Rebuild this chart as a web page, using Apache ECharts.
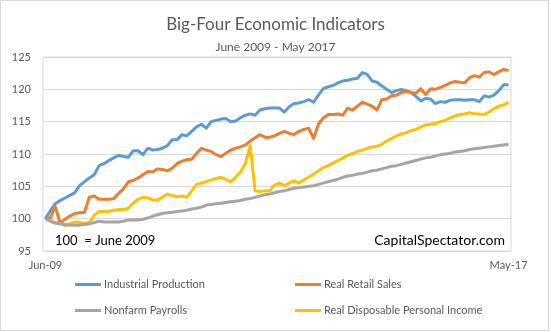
<!DOCTYPE html>
<html><head><meta charset="utf-8">
<script src="https://cdn.jsdelivr.net/npm/echarts@6/dist/echarts.min.js"></script>
<style>html,body{margin:0;padding:0;background:#fff}#c{width:551px;height:332px}</style>
</head><body><div id="c"></div>
<script>
// Months Jun-2009 .. May-2017 (96 monthly categories)
const monthNames = ['Jan','Feb','Mar','Apr','May','Jun','Jul','Aug','Sep','Oct','Nov','Dec'];
const categories = [];
for (let y = 2009; y <= 2017; y++) {
  for (let m = 0; m < 12; m++) {
    if ((y === 2009 && m < 5) || (y === 2017 && m > 4)) continue;
    categories.push(monthNames[m] + '-' + String(y).slice(2));
  }
}
const yTicks = [95, 100, 105, 110, 115, 120, 125];

const industrialProduction = [
100,101.2,102.3,102.8,103.2,103.6,104.0,105.1,105.7,106.3,
106.8,108.2,108.5,109.0,109.4,109.8,109.6,109.5,110.5,110.5,
109.9,110.9,110.6,110.7,110.9,111.3,112.2,112.2,113.0,112.8,
113.5,114.2,114.6,114.0,115.0,115.2,115.4,115.5,115.0,115.1,
115.6,116.0,116.2,116.0,116.8,117.0,117.1,117.1,117.1,116.5,
117.3,117.8,117.9,118.1,118.4,118.0,119.1,120.1,120.4,120.6,
121.0,121.3,121.4,121.6,121.7,122.6,122.3,121.3,121.1,120.5,
120.0,119.5,119.8,120.0,119.8,119.5,118.9,118.2,118.6,118.5,
117.8,118.1,118.0,118.3,118.4,118.4,118.3,118.4,118.4,118.1,
119.0,118.8,119.1,119.8,120.7,120.7];

const realRetailSales = [
100,100.1,101.9,99.3,99.9,100.4,100.8,100.9,101.0,103.3,
103.5,103.0,103.0,103.0,103.1,103.9,104.6,105.7,105.9,106.3,
106.8,107.3,107.2,107.7,107.6,107.4,107.8,108.5,108.9,109.1,
109.2,110.1,110.9,110.6,110.4,109.9,109.6,110.1,110.6,110.9,
111.1,111.4,112.0,112.5,113.0,112.6,112.6,112.8,113.2,113.5,
113.2,113.0,113.5,113.8,114.0,112.4,114.6,115.6,116.1,116.1,
116.2,116.0,117.1,116.8,117.4,118.0,117.7,117.4,116.8,118.4,
118.5,119.0,119.1,119.5,119.7,119.5,119.4,120.1,119.2,120.1,
120.0,120.3,120.6,121.0,121.2,121.1,121.0,121.8,122.1,121.9,
122.6,122.7,122.3,122.7,123.1,122.9];

const nonfarmPayrolls = [
100,99.6,99.3,99.2,99.1,99.0,99.0,99.0,99.1,99.2,
99.4,99.6,99.5,99.5,99.5,99.5,99.6,99.8,99.8,99.8,
99.9,100.1,100.4,100.6,100.8,100.9,101.0,101.1,101.2,101.3,
101.5,101.6,101.8,102.1,102.2,102.3,102.4,102.5,102.6,102.7,
102.8,103.0,103.1,103.3,103.5,103.7,103.8,104.0,104.2,104.3,
104.5,104.7,104.8,104.9,105.0,105.1,105.3,105.5,105.7,105.9,
106.1,106.4,106.6,106.7,106.9,107.0,107.2,107.4,107.5,107.7,
107.9,108.1,108.2,108.4,108.6,108.8,109.0,109.2,109.4,109.5,
109.7,109.9,110.0,110.1,110.3,110.4,110.5,110.7,110.8,110.9,
111.0,111.1,111.2,111.3,111.4,111.5];

const realDisposableIncome = [
100,99.7,99.4,99.4,98.9,99.2,99.5,99.4,99.3,99.4,
100.5,101.1,101.1,101.1,101.3,101.4,101.4,101.6,102.4,103.0,
103.3,103.2,102.9,102.9,103.3,103.8,103.6,103.4,103.5,103.3,
104.3,105.3,105.5,105.7,106.0,106.2,106.4,106.1,105.7,106.4,
107.2,108.5,111.3,104.3,104.2,104.3,104.3,105.2,105.5,105.1,
105.5,105.9,105.5,106.0,106.4,106.9,107.4,107.9,108.2,108.6,
109.0,109.4,109.8,110.1,110.4,110.6,110.9,111.1,111.2,111.5,
112.0,112.4,112.8,113.1,113.3,113.6,113.8,114.2,114.5,114.6,
114.7,115.0,115.2,115.6,115.9,116.1,116.2,116.4,116.2,116.2,
116.1,116.5,117.0,117.4,117.6,118.0];

const seriesNames = ['Industrial Production','Real Retail Sales','Nonfarm Payrolls','Real Disposable Personal Income'];
const seriesData = [industrialProduction, realRetailSales, nonfarmPayrolls, realDisposableIncome];
const colors = ['#5b9bd5','#ed7d31','#a5a5a5','#ffc000'];

const FONT = 'Lato';
const legendPos = [[75,279],[295,279],[75,305],[295,305]];

const chart = echarts.init(document.getElementById('c'), null, {renderer:'canvas'});
chart.setOption({
  animation: false,
  color: colors,
  textStyle: {fontFamily: FONT},
  title: [
    {text: 'Big-Four Economic Indicators', left: 'center', top: 11,
     textStyle: {fontFamily: FONT, fontSize: 17, fontWeight: 'normal', color: '#595959'}},
    {text: 'June 2009 - May 2017', left: 'center', top: 36,
     textStyle: {fontFamily: FONT, fontSize: 12, fontWeight: 'normal', color: '#595959'}}
  ],
  grid: {left: 43, right: 40, top: 57, height: 194, show: true, borderColor: '#d9d9d9', borderWidth: 1},
  xAxis: {
    type: 'category', data: categories, boundaryGap: true,
    axisLine: {show: false}, axisTick: {show: false},
    axisLabel: {interval: 94, color: '#595959', fontSize: 11, fontFamily: FONT, margin: 9}
  },
  yAxis: {
    type: 'value', min: yTicks[0], max: yTicks[yTicks.length-1], interval: 5,
    axisLine: {show: false}, axisTick: {show: false},
    axisLabel: {color: '#595959', fontSize: 11, fontFamily: FONT, margin: 12},
    splitLine: {lineStyle: {color: '#d9d9d9', width: 1}}
  },
  legend: seriesNames.map((n, i) => ({
    data: [n], left: legendPos[i][0], top: legendPos[i][1], padding: 0,
    icon: 'rect', itemWidth: 26, itemHeight: 3, itemGap: 4,
    textStyle: {color: '#595959', fontSize: 11, fontFamily: FONT, padding: [0, 0, 0, -2]}
  })),
  series: seriesNames.map((n, i) => ({
    name: n, type: 'line', data: seriesData[i], showSymbol: false, symbol: 'none',
    lineStyle: {width: 3, color: colors[i], join: 'round'}, z: i === 3 ? 1 : 2 + i
  })),
  graphic: [
    {type: 'rect', shape: {x: 0.5, y: 0.5, width: 548, height: 330}, style: {fill: 'none', stroke: '#d9d9d9', lineWidth: 1}, silent: true},
    {type: 'text', left: 55, top: 234, style: {text: '100  = June 2009', fill: '#000', font: '13px Lato'}},
    {type: 'text', right: 46, top: 233, style: {text: 'CapitalSpectator.com', fill: '#000', font: '14px Lato'}}
  ]
});
</script></body></html>
